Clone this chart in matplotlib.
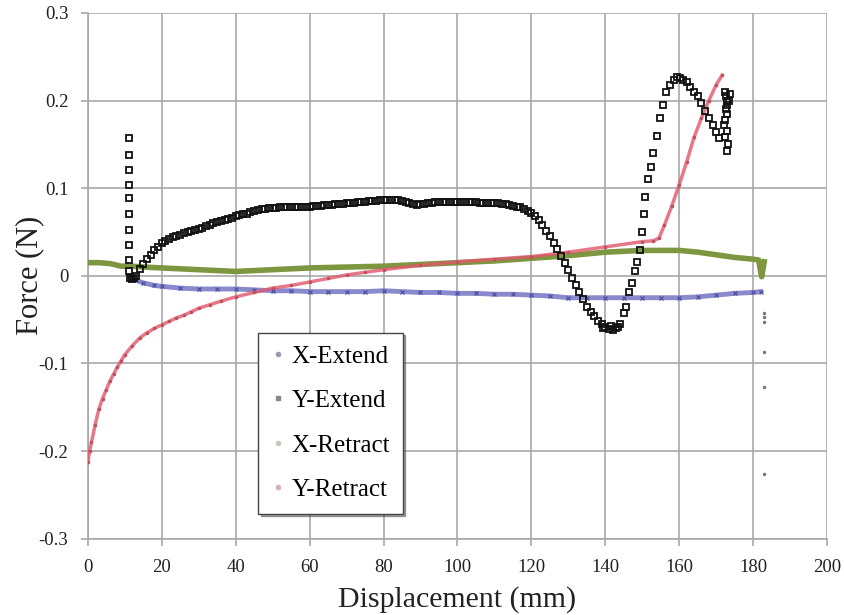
import numpy as np
import matplotlib.pyplot as plt
from matplotlib.lines import Line2D

plt.rcParams['font.family'] = ['Liberation Serif', 'DejaVu Serif']

# X-Extend (blue)
xe_x = [11.5, 13, 15, 18, 20, 25, 30, 35, 40, 45, 50, 55, 60, 65, 70, 75, 80, 85, 90, 95,
        100, 105, 110, 115, 120, 125, 130, 135, 140, 145, 150, 155, 160, 165, 170, 175, 180, 182]
xe_y = [-0.002, -0.005, -0.008, -0.011, -0.012, -0.014, -0.015, -0.015, -0.015, -0.016, -0.017,
        -0.017, -0.018, -0.018, -0.018, -0.018, -0.017, -0.018, -0.019, -0.019, -0.020, -0.020,
        -0.021, -0.021, -0.022, -0.023, -0.025, -0.025, -0.025, -0.025, -0.025, -0.025, -0.025,
        -0.024, -0.022, -0.020, -0.019, -0.018]
# X-Extend tail at the end of travel
xe_tail_x = [182.8, 182.8, 182.8, 182.9, 183.0, 183.0]
xe_tail_y = [-0.042, -0.047, -0.053, -0.087, -0.127, -0.226]

# Y-Extend (black squares)
ye_x = ([11.2] * 10 + [11.5, 12, 12.5, 13] + list(range(14, 121)) +
        [121, 122, 123, 124, 125, 126, 127, 128, 129, 130, 131, 132, 133, 134, 135, 136, 137,
         138, 139, 140, 141, 142, 143, 144, 139.5, 141.5, 143.5, 145, 145.5, 146.5, 147.2, 148,
         148.6, 149.3, 150, 150.4, 150.8, 151.5, 152.3, 153, 154, 154.8, 155.5, 156.5, 157.5,
         158.5, 159.5, 160.3, 161, 162, 163, 164, 165, 166, 167, 168, 169, 170, 170.8,
         172.5, 172.7, 172.8, 173.0, 172.6, 172.9, 172.5, 172.2, 172.8, 172.4, 173.2, 173.0,
         173.5, 173.6])
ye_y = ([0.157, 0.138, 0.121, 0.104, 0.089, 0.070, 0.052, 0.035, 0.018, 0.005] +
        [-0.002, -0.004, -0.003, 0.000] +
        [0.008, 0.014, 0.019, 0.024, 0.029, 0.033, 0.037, 0.040, 0.042, 0.044, 0.046, 0.047,
         0.049, 0.050, 0.051, 0.052, 0.054, 0.055, 0.057, 0.058, 0.060, 0.061, 0.062, 0.064,
         0.065, 0.066, 0.068, 0.069, 0.070, 0.071, 0.073, 0.074, 0.075, 0.076, 0.076, 0.077,
         0.077, 0.077, 0.078, 0.078, 0.078, 0.078, 0.079, 0.079, 0.079, 0.079, 0.079, 0.080,
         0.080, 0.080, 0.081, 0.081, 0.081, 0.082, 0.082, 0.082, 0.083, 0.083, 0.083, 0.084,
         0.084, 0.084, 0.085, 0.085, 0.085, 0.086, 0.086, 0.086, 0.087, 0.086, 0.086, 0.085,
         0.084, 0.083, 0.082, 0.081, 0.082, 0.082, 0.083, 0.083, 0.084, 0.084, 0.084, 0.084,
         0.084, 0.084, 0.084, 0.084, 0.084, 0.084, 0.084, 0.084, 0.083, 0.083, 0.083, 0.083,
         0.083, 0.083, 0.082, 0.082, 0.081, 0.080, 0.079, 0.078, 0.076, 0.074, 0.072] +
        [0.068, 0.064, 0.058, 0.051, 0.045, 0.038, 0.031, 0.023, 0.015, 0.007, -0.002, -0.010,
         -0.018, -0.027, -0.035, -0.041, -0.046, -0.051, -0.055, -0.058, -0.061, -0.062, -0.060,
         -0.055, -0.060, -0.057, -0.058, -0.042, -0.036, -0.018, -0.008, 0.006, 0.016, 0.030,
         0.050, 0.070, 0.090, 0.110, 0.124, 0.140, 0.160, 0.180, 0.195, 0.210, 0.218, 0.224,
         0.227, 0.226, 0.224, 0.221, 0.215, 0.210, 0.205, 0.197, 0.188, 0.180, 0.172, 0.164,
         0.157, 0.210, 0.205, 0.200, 0.195, 0.190, 0.185, 0.178, 0.172, 0.165, 0.158, 0.150,
         0.143, 0.200, 0.208])

# X-Retract (green)
xr_x = [0, 3, 6, 9, 12, 15, 20, 25, 30, 35, 40, 45, 50, 55, 60, 70, 80, 90, 100, 110, 120,
        130, 140, 150, 160, 165, 170, 175, 180, 181.5, 182, 182.3, 183]
xr_y = [0.015, 0.015, 0.014, 0.011, 0.011, 0.010, 0.009, 0.008, 0.007, 0.006, 0.005, 0.006,
        0.007, 0.008, 0.009, 0.010, 0.011, 0.013, 0.015, 0.017, 0.020, 0.023, 0.027, 0.029,
        0.029, 0.027, 0.024, 0.021, 0.019, 0.018, 0.005, -0.001, 0.016]

# Y-Retract (red)
yr_x = [0, 0.5, 1, 2, 3, 4, 5, 6, 7, 8, 9, 10, 12, 14, 16, 18, 20, 22, 24, 26, 28, 30, 33, 36,
        40, 45, 50, 55, 60, 65, 70, 75, 80, 90, 100, 110, 120, 130, 140, 150, 153, 154.5, 156,
        158, 160, 162, 164, 166, 168, 170, 171.6]
yr_y = [-0.213, -0.200, -0.190, -0.170, -0.152, -0.140, -0.130, -0.120, -0.112, -0.104, -0.097,
        -0.090, -0.080, -0.071, -0.065, -0.060, -0.056, -0.052, -0.048, -0.045, -0.041, -0.037,
        -0.033, -0.029, -0.024, -0.019, -0.014, -0.011, -0.007, -0.003, 0.001, 0.004, 0.007,
        0.012, 0.016, 0.019, 0.022, 0.027, 0.033, 0.039, 0.040, 0.043, 0.058, 0.080, 0.104,
        0.130, 0.158, 0.180, 0.200, 0.218, 0.229]

labels = ['X-Extend', 'Y-Extend', 'X-Retract', 'Y-Retract']
c_blue = '#7474c4'
c_black = '#111111'
c_green = '#7d9640'
c_red = '#e0586a'

fig = plt.figure(figsize=(8.44, 6.15), dpi=100)
ax = fig.add_axes([0.104, 0.124, 0.876, 0.855])

ax.plot(xr_x, xr_y, '-', color=c_green, lw=4, zorder=3)
ax.plot(xe_x, xe_y, '-', color=c_blue, lw=3.5, alpha=0.85, zorder=3)
ax.plot(xe_x, xe_y, 'x', color='#5555aa', ms=3, mew=1, zorder=3)
ax.plot(xe_tail_x, xe_tail_y, '.', color='#777788', ms=3, zorder=3)
ax.plot(yr_x, yr_y, '-', color=c_red, lw=2.5, alpha=0.8, zorder=4)
ax.plot(yr_x, yr_y, '.', color='#c05060', ms=3, zorder=4)
ax.plot(ye_x, ye_y, 's', mfc='none', mec=c_black, ms=5, mew=1.3, zorder=5)

ax.set_xlim(0, 200)
ax.set_ylim(-0.3, 0.3)
ax.set_xticks(np.arange(0, 201, 20))
ax.set_yticks(np.arange(-0.3, 0.31, 0.1))
ax.yaxis.set_major_formatter(plt.FuncFormatter(lambda v, p: '%g' % round(v, 1)))
ax.grid(True, color='#a8a8a8', lw=1.2)
ax.set_axisbelow(True)
for s in ['top', 'right']:
    ax.spines[s].set_visible(False)
for s in ['left', 'bottom']:
    ax.spines[s].set_color('#a8a8a8')
    ax.spines[s].set_linewidth(1.2)
ax.tick_params(colors='#a8a8a8', labelcolor='#222222', labelsize=13.5, length=5, width=1.2)
ax.tick_params(axis='y', pad=9)
ax.tick_params(axis='x', pad=9.5)

ax.set_xlabel('Displacement (mm)', fontsize=21.5, color='#222222', labelpad=7)
ax.set_ylabel('Force (N)', fontsize=22, color='#222222', labelpad=-4)

handles = [Line2D([], [], ls='none', marker='o', ms=3, color='#9a9ab0'),
           Line2D([], [], ls='none', marker='s', ms=3.5, color='#888888'),
           Line2D([], [], ls='none', marker='o', ms=3, color='#c8c8b8'),
           Line2D([], [], ls='none', marker='o', ms=3, color='#d8b0b8')]
leg = ax.legend(handles, labels, loc='upper left', bbox_to_anchor=(0.230, 0.392),
                fontsize=18, frameon=True, fancybox=False, shadow=True,
                handlelength=0.6, handletextpad=0.25, labelspacing=0.88, borderpad=0.5,
                borderaxespad=0)
leg.get_frame().set_edgecolor('#444444')
leg.get_frame().set_linewidth(1.0)

fig.savefig('out.png', dpi=100)
